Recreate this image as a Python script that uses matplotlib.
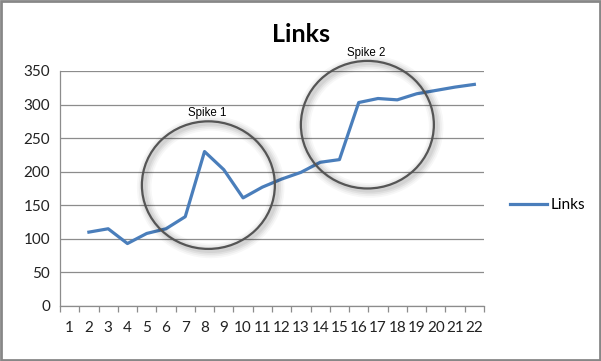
import numpy as np
import matplotlib.pyplot as plt
from matplotlib.patches import Ellipse, Rectangle

# data
categories = list(range(1, 23))
links = [np.nan, 110, 115, 93, 108, 115, 133, 230, 203, 161, 177, 189,
         199, 214, 218, 303, 309, 307, 316, 321, 326, 330]
spike_labels = ["Spike 1", "Spike 2"]
spike_centers = [(8.2, 180), (16.45, 270)]
y_ticks = [0, 50, 100, 150, 200, 250, 300, 350]

plt.rcParams['font.family'] = ['Lato', 'DejaVu Sans']

fig = plt.figure(figsize=(6.01, 3.61), dpi=100)
ax = fig.add_axes([0.0998, 0.1524, 0.7055, 0.651])

ax.plot(categories, links, color='#4A7EBB', lw=2.3, label='Links',
        solid_joinstyle='round', zorder=3)

ax.set_xlim(0.5, 22.5)
ax.set_ylim(0, 350)
ax.set_yticks(y_ticks)
ax.set_xticks(categories)
ax.set_xticks(np.arange(0.5, 23, 1), minor=True)
ax.grid(axis='y', color='#8c8c8c', lw=0.9)
ax.set_axisbelow(True)
for s in ['top', 'right']:
    ax.spines[s].set_visible(False)
for s in ['left', 'bottom']:
    ax.spines[s].set_color('#8c8c8c')
    ax.spines[s].set_linewidth(0.9)
ax.tick_params(axis='y', length=0, labelsize=11, pad=7, colors='#222222')
ax.tick_params(axis='x', which='major', length=0, labelsize=11, pad=11,
               colors='#222222')
ax.tick_params(axis='x', which='minor', length=4, color='#8c8c8c', width=0.9)

# circles around the spikes, with a soft shadow
for label, (cx, cy) in zip(spike_labels, spike_centers):
    for i, a in enumerate([0.06, 0.05, 0.04, 0.03]):
        sh = Ellipse((cx + 0.12, cy - 3), 6.9, 190, fill=False,
                     edgecolor='black', lw=3 + 2.5 * i, alpha=a,
                     clip_on=False, zorder=4)
        ax.add_patch(sh)
    circ = Ellipse((cx, cy), 6.9, 190, fill=False, edgecolor='#555555',
                   lw=1.6, clip_on=False, zorder=5)
    ax.add_patch(circ)
    ax.text(cx - 0.05, cy + 95 + 3, label, ha='center', va='bottom',
            fontsize=8.3, family=['Liberation Sans', 'DejaVu Sans'],
            color='black', zorder=6)

fig.text(0.5, 0.905, 'Links', ha='center', va='center', fontsize=18,
         fontweight='bold')

ax.legend(loc='center left', bbox_to_anchor=(1.03, 0.43), frameon=False,
          fontsize=11, handlelength=2.4, handletextpad=0.2)

fig.add_artist(Rectangle((0.0015, 0.0025), 0.997, 0.995, fill=False,
                         edgecolor='#878787', lw=2, transform=fig.transFigure))

plt.savefig('out.png', dpi=100)
plt.close()
